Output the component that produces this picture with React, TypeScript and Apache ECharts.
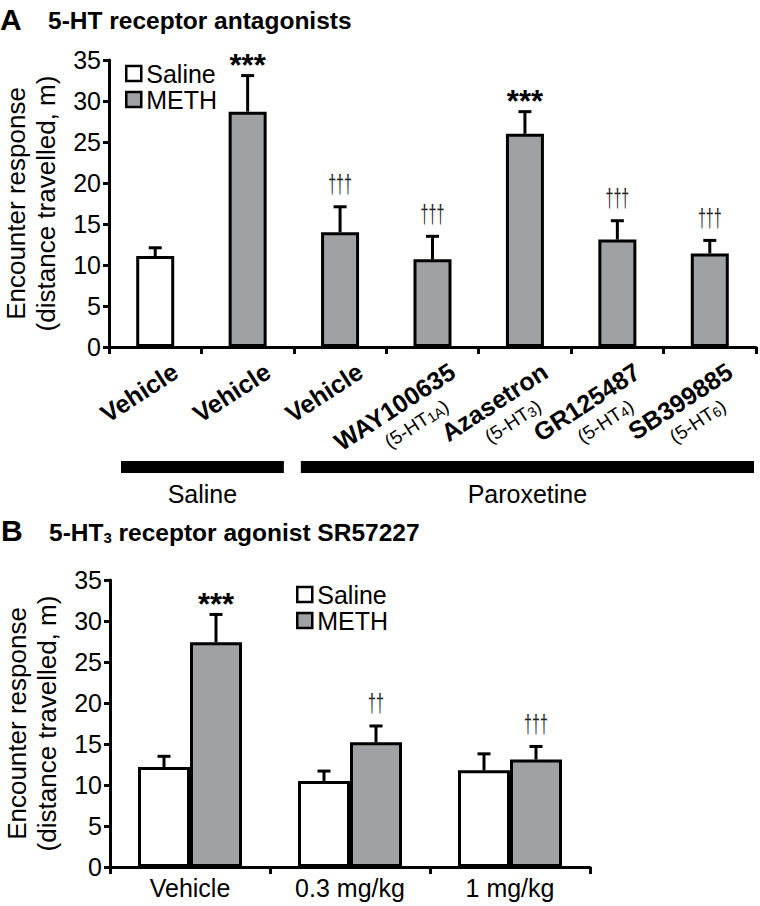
import React, { useEffect, useRef } from 'react';
import * as echarts from 'echarts';

// ---------- Data ----------
const topCategories = ['Vehicle', 'Vehicle', 'Vehicle', 'WAY100635', 'Azasetron', 'GR125487', 'SB399885'];
const topReceptor = ['', '', '', '1A', '3', '4', '6'];
const topTreatment = ['Saline', 'METH', 'METH', 'METH', 'METH', 'METH', 'METH'];
const topMeans = [11.1, 28.7, 14.0, 10.7, 26.0, 13.1, 11.4];
const topSems = [1.0, 4.4, 3.1, 2.8, 2.7, 2.3, 1.6];
const topSig = ['', '***', '†††', '†††', '***', '†††', '†††'];

const pretreatNames = ['Saline', 'Paroxetine'];
const pretreatStart = [0, 2];
const pretreatEnd = [1, 6];

const bottomCategories = ['Vehicle', '0.3 mg/kg', '1 mg/kg'];
const salineMeans = [12.2, 10.5, 11.8];
const salineSems = [1.3, 1.2, 2.0];
const methMeans = [27.4, 15.2, 13.1];
const methSems = [3.4, 2.0, 1.6];
const methSig = ['***', '††', '†††'];

const yMin = 0;
const yMax = 35;
const yInterval = 5;
const yName = 'Encounter response\n(distance travelled, m)';

// ---------- Styles ----------
const FF = '"Liberation Sans", Arial, sans-serif';
const GRAY = '#a0a1a4';
const BAR_W_TOP = 38;
const BAR_W_BOT = 52;
const LABEL_ROT = (33 * Math.PI) / 180;

function sigText(sig: string, x: number, yCap: number) {
  if (!sig) return null;
  if (sig.indexOf('*') >= 0) {
    return {
      type: 'text',
      x,
      y: yCap - 10,
      style: {
        text: sig,
        fontSize: 31,
        fontWeight: 'bold',
        fontFamily: FF,
        fill: '#000',
        align: 'center',
        verticalAlign: 'middle',
      },
    };
  }
  return {
    type: 'group',
    x,
    y: yCap - 23,
    scaleX: 0.75,
    scaleY: 1.35,
    children: [
      {
        type: 'text',
        x: 0,
        y: 0,
        style: {
          text: sig,
          fontSize: 19,
          fontFamily: FF,
          fill: '#222',
          align: 'center',
          verticalAlign: 'middle',
        },
      },
    ],
  };
}

function errorRenderer(offset: number, sigs: string[]) {
  return (params: any, api: any) => {
    const i = api.value(0);
    const v = api.value(1);
    const e = api.value(2);
    const top = api.coord([i, v]);
    const cap = api.coord([i, v + e]);
    const x = top[0] + offset;
    const children: any[] = [
      {
        type: 'line',
        shape: { x1: x, y1: top[1], x2: x, y2: cap[1] },
        style: { stroke: '#000', lineWidth: 3 },
      },
      {
        type: 'line',
        shape: { x1: x - 6.5, y1: cap[1], x2: x + 6.5, y2: cap[1] },
        style: { stroke: '#000', lineWidth: 3 },
      },
    ];
    const t = sigText(sigs[params.dataIndex] || '', x, cap[1]);
    if (t) children.push(t);
    return { type: 'group', children };
  };
}

export default function App() {
  const ref = useRef<HTMLDivElement>(null);

  useEffect(() => {
    document.body.style.margin = '0';
    if (!ref.current) return;
    const chart = echarts.init(ref.current, null, { renderer: 'svg' });

    const axisLineStyle = { color: '#000', width: 3 };

    const yAxisBase = {
      type: 'value',
      min: yMin,
      max: yMax,
      interval: yInterval,
      axisLine: { show: true, lineStyle: axisLineStyle },
      axisTick: { show: true, length: 6, lineStyle: axisLineStyle },
      splitLine: { show: false },
      axisLabel: { fontSize: 25, color: '#000', margin: 8, fontFamily: FF },
      name: yName,
      nameLocation: 'middle',
      nameGap: 48,
      nameTextStyle: { fontSize: 26, lineHeight: 30, color: '#000', fontFamily: FF },
    };

    const legendBase = {
      orient: 'vertical',
      icon: 'rect',
      itemWidth: 15,
      itemHeight: 15,
      itemGap: 1,
      padding: 0,
      data: ['Saline', 'METH'],
      textStyle: { fontSize: 25, lineHeight: 22, color: '#000', fontFamily: FF },
      itemStyle: { borderColor: '#000', borderWidth: 2.5 },
    };

    const option: any = {
      animation: false,
      backgroundColor: '#fff',
      graphic: [
        { type: 'text', x: 0, y: 19, style: { text: 'A', fontSize: 30, fontWeight: 'bold', fontFamily: FF, fill: '#000', verticalAlign: 'middle' } },
        { type: 'text', x: 48, y: 20, style: { text: '5-HT receptor antagonists', fontSize: 24.5, fontWeight: 'bold', fontFamily: FF, fill: '#000', verticalAlign: 'middle' } },
        { type: 'text', x: 1, y: 530, style: { text: 'B', fontSize: 30, fontWeight: 'bold', fontFamily: FF, fill: '#000', verticalAlign: 'middle' } },
        {
          type: 'text',
          x: 49,
          y: 531,
          style: {
            text: '{t|5-HT}{s|3}{t| receptor agonist SR57227}',
            verticalAlign: 'middle',
            rich: {
              t: { fontSize: 24.5, fontWeight: 'bold', fontFamily: FF, fill: '#000', verticalAlign: 'bottom', lineHeight: 28 },
              s: { fontSize: 15, fontWeight: 'bold', fontFamily: FF, fill: '#000', verticalAlign: 'bottom', lineHeight: 24 },
            },
          },
        },
      ],
      legend: [
        { ...legendBase, left: 125, top: 61 },
        { ...legendBase, left: 296, top: 582 },
      ],
      grid: [
        { left: 109, right: 4, top: 60, height: 287, outerBoundsMode: 'none', containLabel: false },
        { left: 110, top: 580, width: 480, height: 287, outerBoundsMode: 'none', containLabel: false },
      ],
      xAxis: [
        {
          gridIndex: 0,
          type: 'category',
          data: topCategories.map((c, i) => c + ' ' + topTreatment[i] + ' ' + i),
          axisLine: { show: true, lineStyle: axisLineStyle },
          axisTick: { show: true, interval: 0, length: 7, lineStyle: axisLineStyle },
          axisLabel: { show: false },
        },
        {
          gridIndex: 1,
          type: 'category',
          data: bottomCategories,
          axisLine: { show: true, lineStyle: axisLineStyle },
          axisTick: { show: true, interval: 0, length: 7, lineStyle: axisLineStyle },
          axisLabel: { fontSize: 25, color: '#000', margin: 8, fontFamily: FF, interval: 0 },
        },
      ],
      yAxis: [
        { ...yAxisBase, gridIndex: 0 },
        { ...yAxisBase, gridIndex: 1 },
      ],
      series: [
        {
          type: 'bar',
          name: 'Saline',
          xAxisIndex: 0,
          yAxisIndex: 0,
          barWidth: BAR_W_TOP,
          barGap: '-100%',
          data: topMeans.map((v, i) => (topTreatment[i] === 'Saline' ? v : '-')),
          itemStyle: { color: '#fff', borderColor: '#000', borderWidth: 3 },
        },
        {
          type: 'bar',
          name: 'METH',
          xAxisIndex: 0,
          yAxisIndex: 0,
          barWidth: BAR_W_TOP,
          barGap: '-100%',
          data: topMeans.map((v, i) => (topTreatment[i] === 'METH' ? v : '-')),
          itemStyle: { color: GRAY, borderColor: '#000', borderWidth: 3 },
        },
        {
          type: 'custom',
          xAxisIndex: 0,
          yAxisIndex: 0,
          z: 5,
          encode: { x: 0, y: 1 },
          data: topMeans.map((v, i) => [i, v, topSems[i]]),
          renderItem: errorRenderer(0, topSig),
        },
        {
          // rotated category labels with receptor subtype
          type: 'custom',
          xAxisIndex: 0,
          yAxisIndex: 0,
          z: 5,
          encode: { x: 0, y: 1 },
          data: topCategories.map((_, i) => [i, 0]),
          renderItem: (params: any, api: any) => {
            const idx = params.dataIndex;
            const p = api.coord([api.value(0), 0]);
            const children: any[] = [
              {
                type: 'text',
                x: 0,
                y: 0,
                style: {
                  text: topCategories[idx],
                  fontSize: 25,
                  fontWeight: 'bold',
                  fontFamily: FF,
                  fill: '#000',
                  align: 'right',
                  verticalAlign: 'middle',
                },
              },
            ];
            if (topReceptor[idx]) {
              children.push({
                type: 'text',
                x: -24,
                y: 25,
                style: {
                  text: '{a|(5-HT}{s|' + topReceptor[idx] + '}{a|)}',
                  align: 'right',
                  verticalAlign: 'middle',
                  rich: {
                    a: { fontSize: 19, fontFamily: FF, fill: '#000', verticalAlign: 'bottom', lineHeight: 22 },
                    s: { fontSize: 14, fontFamily: FF, fill: '#000', verticalAlign: 'bottom', lineHeight: 20 },
                  },
                },
              });
            }
            return { type: 'group', x: p[0] + 20, y: p[1] + 22, rotation: LABEL_ROT, children };
          },
        },
        {
          // pretreatment group bars
          type: 'custom',
          xAxisIndex: 0,
          yAxisIndex: 0,
          encode: { x: [0, 1], y: 2 },
          data: pretreatStart.map((s, k) => [s, pretreatEnd[k], 0]),
          renderItem: (params: any, api: any) => {
            const k = params.dataIndex;
            const a = api.coord([api.value(0), 0]);
            const b = api.coord([api.value(1), 0]);
            const cw = api.size([1, 0])[0];
            const insetL = k === 0 ? 12 : 7;
            const insetR = k === 0 ? 10 : 2;
            const x0 = a[0] - cw / 2 + insetL;
            const x1 = b[0] + cw / 2 - insetR;
            return {
              type: 'group',
              children: [
                { type: 'rect', shape: { x: x0, y: a[1] + 114, width: x1 - x0, height: 12 }, style: { fill: '#000' } },
                {
                  type: 'text',
                  x: (x0 + x1) / 2,
                  y: a[1] + 147,
                  style: { text: pretreatNames[k], fontSize: 25, fontFamily: FF, fill: '#000', align: 'center', verticalAlign: 'middle' },
                },
              ],
            };
          },
        },
        {
          type: 'bar',
          name: 'Saline',
          xAxisIndex: 1,
          yAxisIndex: 1,
          barWidth: BAR_W_BOT,
          barGap: '0%',
          data: salineMeans,
          itemStyle: { color: '#fff', borderColor: '#000', borderWidth: 3 },
        },
        {
          type: 'bar',
          name: 'METH',
          xAxisIndex: 1,
          yAxisIndex: 1,
          barWidth: BAR_W_BOT,
          barGap: '0%',
          data: methMeans,
          itemStyle: { color: GRAY, borderColor: '#000', borderWidth: 3 },
        },
        {
          type: 'custom',
          xAxisIndex: 1,
          yAxisIndex: 1,
          z: 5,
          encode: { x: 0, y: 1 },
          data: salineMeans.map((v, i) => [i, v, salineSems[i]]),
          renderItem: errorRenderer(-BAR_W_BOT / 2, []),
        },
        {
          type: 'custom',
          xAxisIndex: 1,
          yAxisIndex: 1,
          z: 5,
          encode: { x: 0, y: 1 },
          data: methMeans.map((v, i) => [i, v, methSems[i]]),
          renderItem: errorRenderer(BAR_W_BOT / 2, methSig),
        },
      ],
    };

    chart.setOption(option);
    return () => chart.dispose();
  }, []);

  return <div ref={ref} style={{ width: 760, height: 906 }} />;
}
